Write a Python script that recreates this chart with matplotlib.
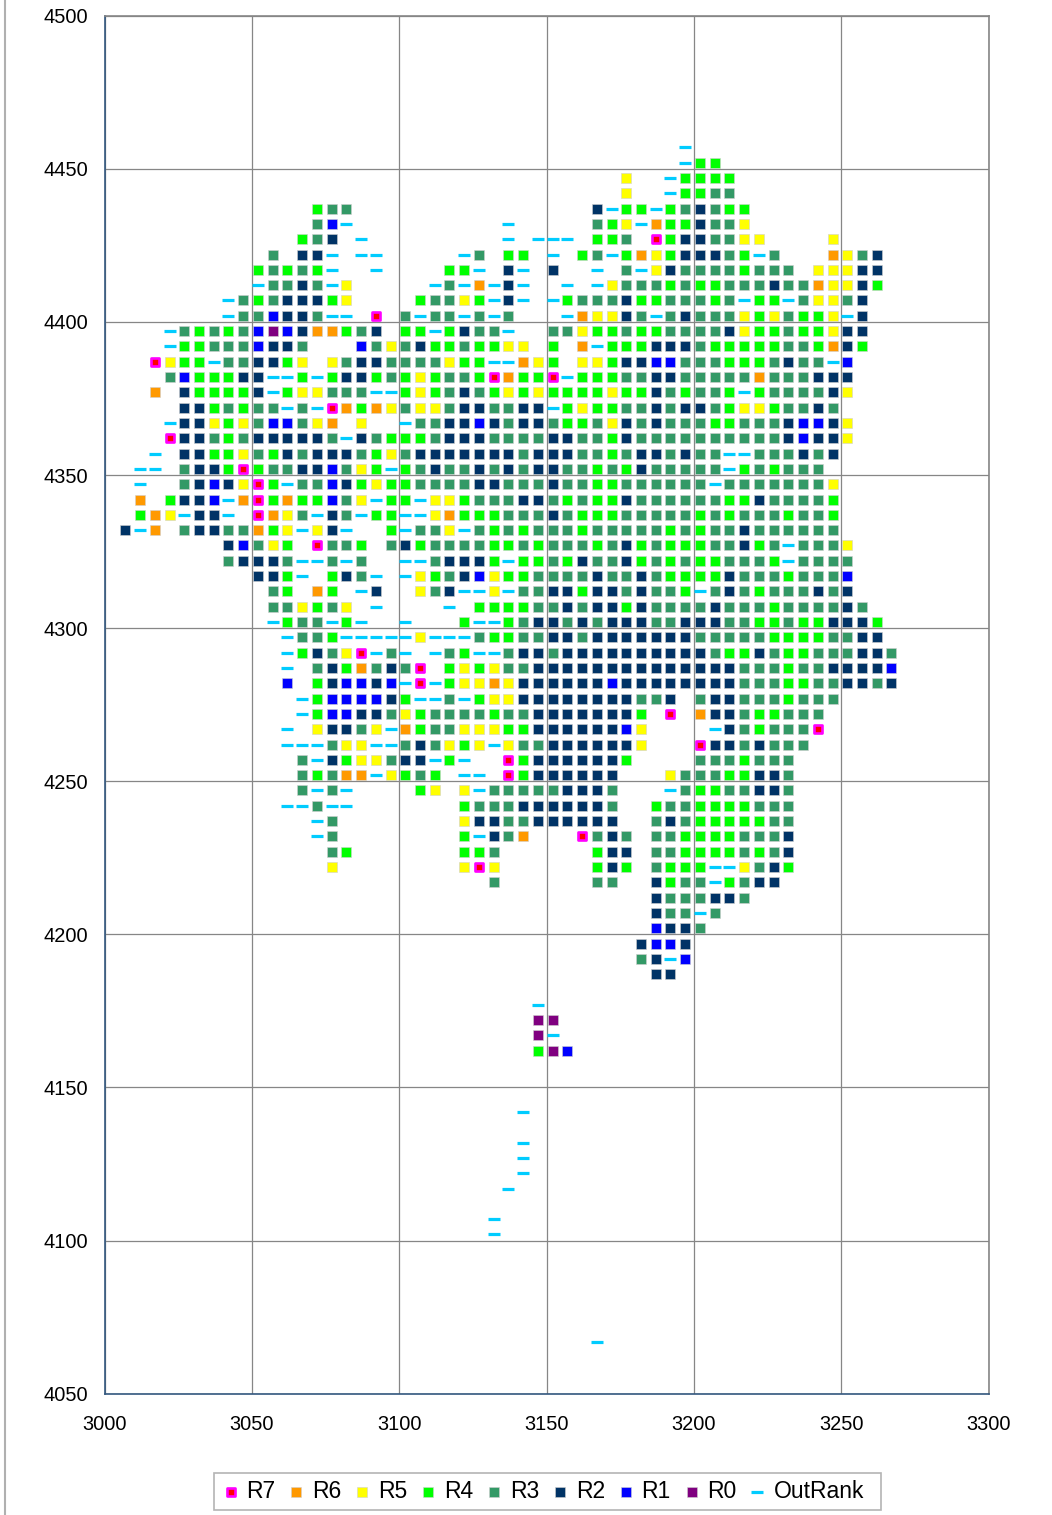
import matplotlib
matplotlib.use("Agg")
import matplotlib.pyplot as plt
from matplotlib.lines import Line2D
from matplotlib.patches import Rectangle

plt.rcParams['font.family'] = ['Liberation Sans', 'DejaVu Sans']

# one row of the map per y value, cells are 5 apart in x
# 7..0 = rank, o = OutRank, . = nothing
row_y = [4457, 4452, 4447, 4442, 4437, 4432, 4427, 4422, 4417, 4412, 4407, 4402,
         4397, 4392, 4387, 4382, 4377, 4372, 4367, 4362, 4357, 4352, 4347, 4342,
         4337, 4332, 4327, 4322, 4317, 4312, 4307, 4302, 4297, 4292, 4287, 4282,
         4277, 4272, 4267, 4262, 4257, 4252, 4247, 4242, 4237, 4232, 4227, 4222,
         4217, 4212, 4207, 4202, 4197, 4192, 4187, 4177, 4172, 4167, 4162, 4142,
         4132, 4127, 4122, 4117, 4107, 4102, 4067]
row_first_x = [3197, 3197, 3177, 3177, 3072, 3072, 3067, 3057, 3052, 3052, 3042, 3042,
               3022, 3022, 3017, 3022, 3017, 3027, 3022, 3022, 3017, 3012, 3012, 3012,
               3012, 3007, 3042, 3042, 3052, 3057, 3057, 3057, 3062, 3062, 3062, 3062,
               3067, 3067, 3062, 3062, 3067, 3067, 3067, 3062, 3072, 3072, 3077, 3077,
               3132, 3187, 3187, 3187, 3182, 3182, 3187, 3147, 3147, 3147, 3147, 3142,
               3142, 3142, 3142, 3137, 3132, 3132, 3167]
row_cells = [
    "o",
    "o44",
    "5..o4444",
    "5..o4433",
    "433................2o44o432344",
    "31o..........o.....345o6442335",
    "432.o.........o.ooo.443.74223355....5",
    "3.22o.oo.....o3.44.o.43o465422234o3...6532",
    "43434o..o....44o.2o.2..o.3o5233334333.55522",
    "o3323o5.....o3o6o2o..o.o5333434433323365524",
    "o34322245....43354o2o.o433324433343o44o35532",
    "o331223oo.7.3o33o3o3...o65523o323335453445o2",
    "o34343101266432.44o4233o..3354434433332544344522",
    "o443331223...135324434455.4.6o444222344444334624",
    "7544o332245.53223333544oo654.55422113334443233o1",
    "3144422oo4o4224345433476447o4443322333336333222",
    "6.244442o455333oo45432345454444544234334o4333325",
    "2243433o3o764653553223322o4544332322345543323",
    "o22545311356.5..o332212322344352323334433321125",
    "722343222223o23444322233332233423333333333" + "21225",
    "o.22445342322234532222222322233432" + "23233oo333232",
    "oo.32247433221354" + "o43233232322334342" + "33333o434333",
    "o..3212574o331245" + "443333223332334433" + "3333o33333335",
    "6.4221o674644135o" + "44o554333223434423" + "3333344233334",
    "465o22o.7653o23o4" + "4oo564443332344433" + "3334343334334",
    "2o6.32233645o52o.." + "4o335o343433343333" + "3434332333333",
    "21354.7334." + "324333344343334324" + "344433243o3335",
    "32223oo3o3.." + "oo32224o443423324" + "343443334o3333",
    "224o.423o.o" + "5432154433332332" + "34444233343331",
    "34.64.o2.." + "532oo5o332242232" + "334o3234333232",
    "335435.o....o." + "444433232242" + "333323334333323",
    "o433o4o..o..." + "4oo4322323222" + "3322233443442224",
    "o334ooooo5ooo" + "344332232222" + "2223333344443322",
    "o42357o3o.o34oo" + "3223222222" + "22223442344333223",
    "o.32463237." + "454533" + "22222222222222" + "33343322221",
    "1.421121o7o" + "45565" + "2222221" + "22222222" + "33344332232",
    "o4111124oo3o455" + "22222222" + "332.3223334333",
    "o411223543333433" + "2222222" + "4.7.622344333",
    "o.52235o643355544" + "222222" + "15...." + "o2343337",
    "ooo355oo323545o533" + "222222" + "5..." + "72232333",
    "3o2455322o4o..74" + "222222" + "4...." + "3334333",
    "34366o5434.oo.74" + "222222" + "..." + "533344223",
    "3o3o....45.5o" + "333332223" + "..." + "o34433223",
    "oo3oo......." + "43332222223" + ".." + "4334444333",
    "o3........" + "52233222222" + ".." + "3234444433",
    "o3........" + "4o236...7323." + "3344443332",
    "34......." + "443......422." + "3344443432",
    "5........" + "575......424." + "3444oo5324",
    "3......33..2433o4322",
    "2333223",
    "233o3",
    "1223",
    "2112",
    "32o1",
    "22",
    "o",
    "00",
    "0o",
    "401",
    "o",
    "o",
    "o",
    "o",
    "o",
    "o",
    "o",
    "o",
]

x_ticks = [3000, 3050, 3100, 3150, 3200, 3250, 3300]
y_ticks = [4050, 4100, 4150, 4200, 4250, 4300, 4350, 4400, 4450, 4500]

series_keys = ['7', '6', '5', '4', '3', '2', '1', '0', 'o']
series_names = ['R7', 'R6', 'R5', 'R4', 'R3', 'R2', 'R1', 'R0', 'OutRank']
series_colors = ['#FF0000', '#FF9900', '#FFFF00', '#00FF00', '#339966', '#003366',
                 '#0000FF', '#800080', '#00CCFF']

pts_x = {k: [] for k in series_keys}
pts_y = {k: [] for k in series_keys}
for y, x0, cells in zip(row_y, row_first_x, row_cells):
    for i, ch in enumerate(cells):
        if ch != '.':
            pts_x[ch].append(x0 + 5 * i)
            pts_y[ch].append(y)

W, H = 1052, 1515
fig = plt.figure(figsize=(W / 100, H / 100), dpi=100)
ax = fig.add_axes([104.7 / W, 1 - 1393.7 / H, 884 / W, 1378 / H])

for k, name, col in zip(series_keys, series_names, series_colors):
    if k == '7':
        ax.scatter(pts_x[k], pts_y[k], s=38, marker='s', c=col, edgecolors='#FF00FF',
                   linewidths=1.9, label=name, zorder=3)
    elif k == 'o':
        ax.scatter(pts_x[k], pts_y[k], s=74, marker='_', c=col, linewidths=2.3,
                   label=name, zorder=3)
    else:
        ax.scatter(pts_x[k], pts_y[k], s=58, marker='s', c=col, edgecolors='#D0D0D0',
                   linewidths=0.4, label=name, zorder=3)

ax.set_xlim(3000, 3300)
ax.set_ylim(4050, 4500)
ax.set_xticks(x_ticks)
ax.set_yticks(y_ticks)
ax.grid(True, color='#868686', linewidth=0.9)
ax.set_axisbelow(True)
ax.tick_params(length=0, labelsize=14.4, colors='black')
ax.tick_params(axis='x', pad=15)
ax.tick_params(axis='y', pad=12)

for side in ['top', 'right']:
    ax.spines[side].set_color('#868686')
for side in ['left', 'bottom']:
    ax.spines[side].set_color('#33587F')
for s in ax.spines.values():
    s.set_linewidth(1.2)

# legend box drawn apart so the entries keep their own spacing inside it
fig.add_artist(Rectangle((214 / W, 1 - 1510 / H), 667 / W, 37 / H, transform=fig.transFigure,
                         facecolor='white', edgecolor='#B4B4B4', linewidth=1.2, zorder=1))
leg = fig.legend(loc='center', bbox_to_anchor=(544 / W, 1 - 1492 / H), ncol=9, fontsize=16.5,
                 frameon=False, handlelength=0.55, handletextpad=0.42, columnspacing=0.63,
                 borderpad=0, borderaxespad=0, scatterpoints=1)
leg.set_zorder(5)

# outer frame of the chart area, left edge only shows
fig.add_artist(Line2D([5 / W, 5 / W], [0, 1], color='#B0B0B0', linewidth=1.5))

fig.savefig('out.png', dpi=100)
